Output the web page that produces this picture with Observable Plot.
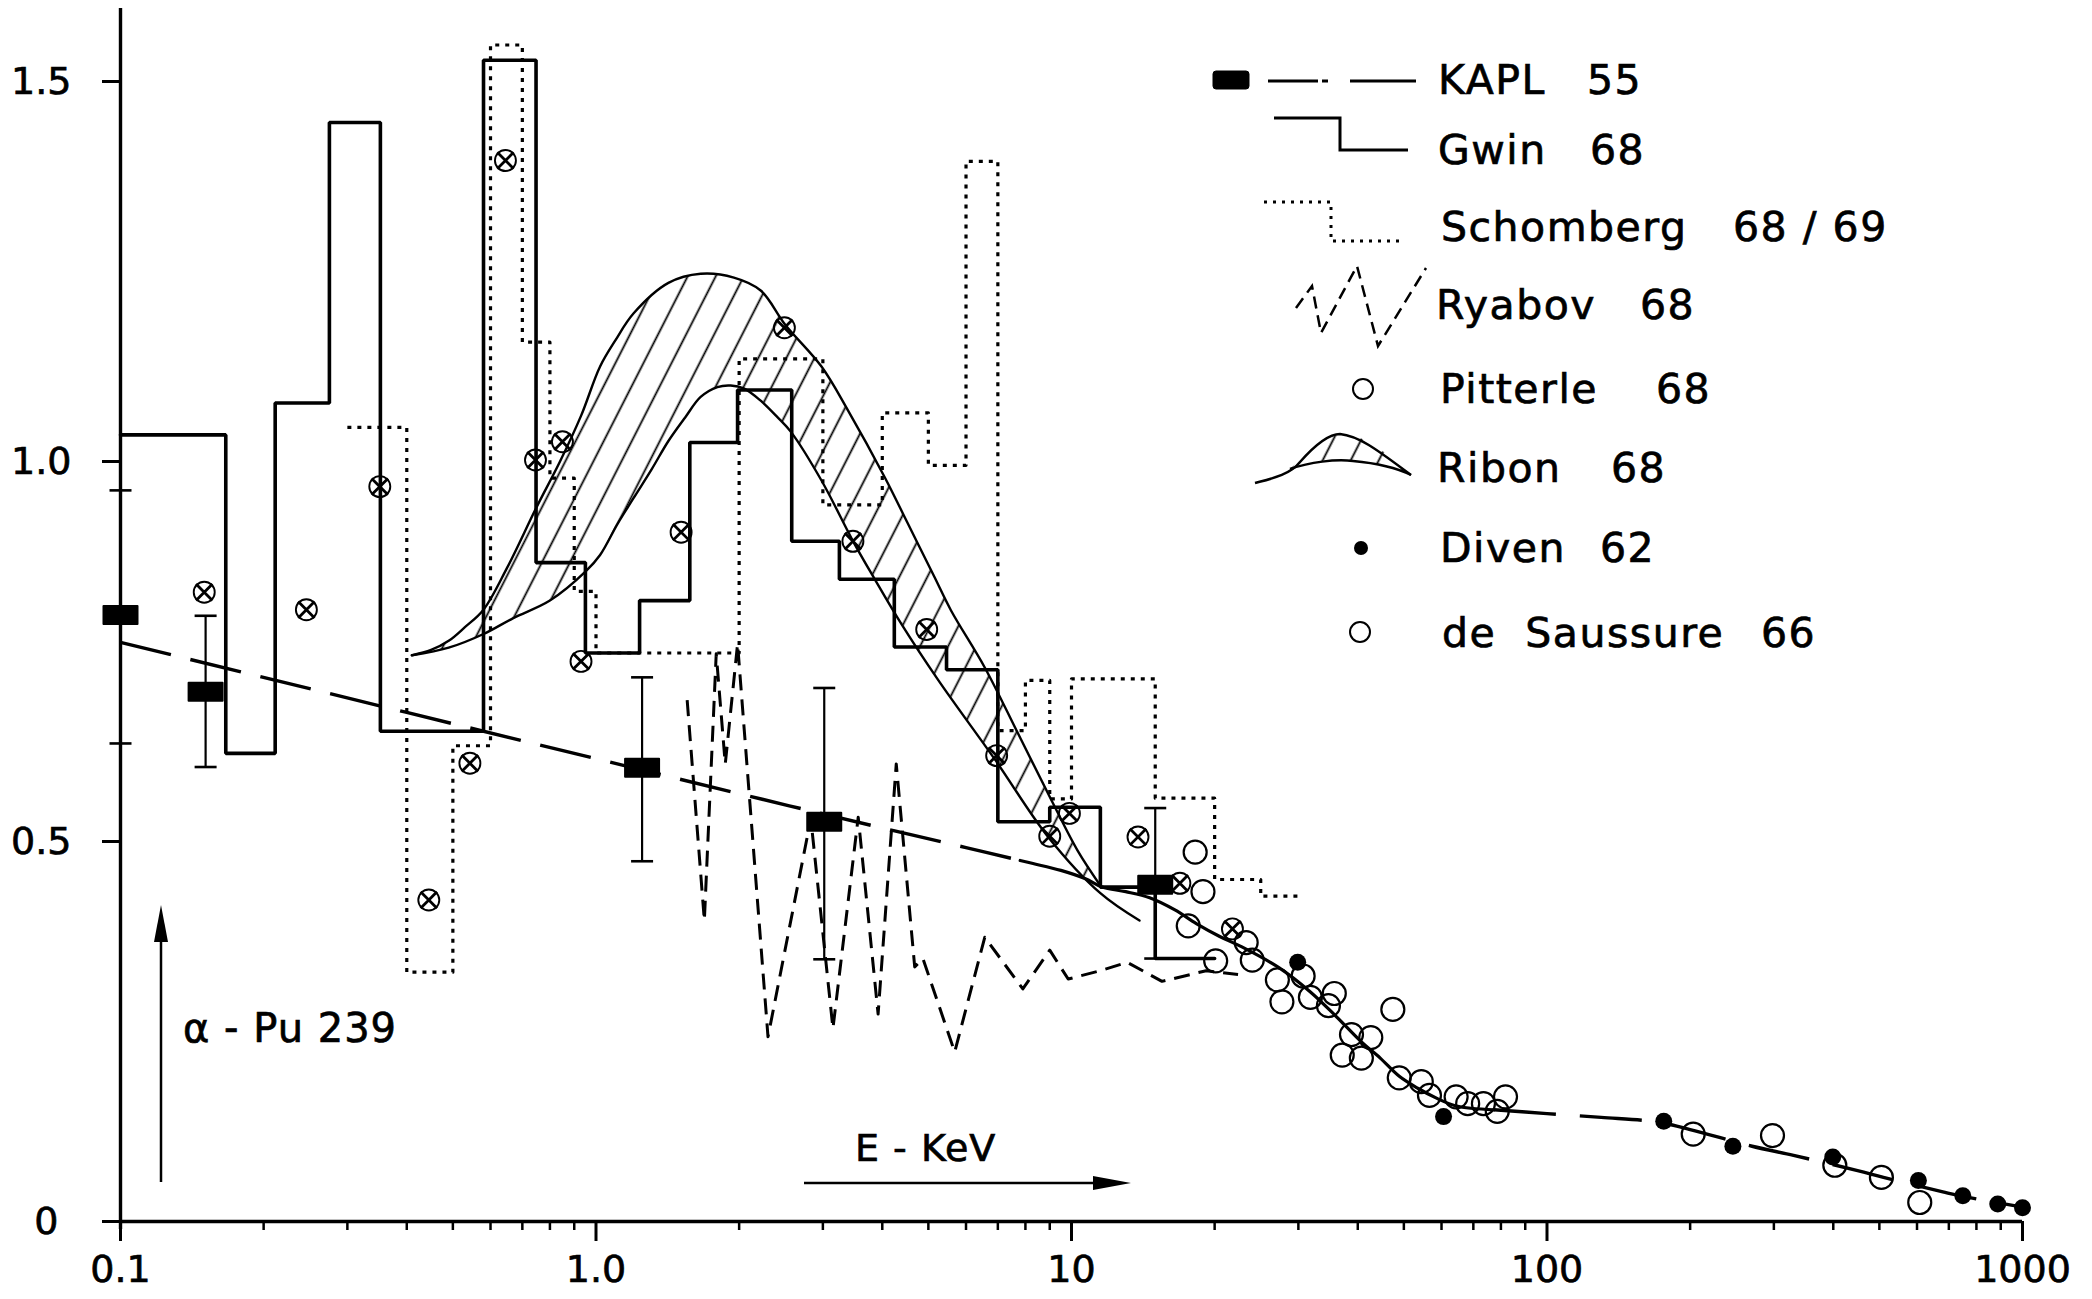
<!DOCTYPE html>
<html><head><meta charset="utf-8">
<script src="https://cdn.jsdelivr.net/npm/d3@7"></script>
<script src="https://cdn.jsdelivr.net/npm/@observablehq/plot@0.6"></script>
<style>
html,body{margin:0;padding:0;background:#fff;}
#chart svg{display:block;}
#chart svg text{stroke:black;stroke-width:0.7px;}
</style>
</head><body><div id="chart"></div>
<script>
// ---------- data (E in keV, alpha) ----------
const gwinEdges = [0.1, 0.1665, 0.2115, 0.275, 0.352, 0.58, 0.748, 0.95, 1.235, 1.575, 1.985, 2.58, 3.25, 4.24, 5.46, 7.0, 9.0, 11.5, 15.0, 20.0];
const gwinAlpha = [1.035, 0.616, 1.077, 1.446, 0.645, 1.528, 0.867, 0.748, 0.817, 1.025, 1.094, 0.895, 0.845, 0.756, 0.726, 0.526, 0.545, 0.44, 0.346];

const schombergEdges = [0.30, 0.40, 0.50, 0.60, 0.70, 0.80, 0.90, 1.0, 2.0, 3.0, 4.0, 5.0, 6.0, 7.0, 8.0, 9.0, 10, 15, 20, 25, 30];
const schombergAlpha = [1.045, 0.328, 0.626, 1.548, 1.157, 0.978, 0.829, 0.748, 1.135, 0.943, 1.064, 0.995, 1.395, 0.646, 0.712, 0.556, 0.714, 0.557, 0.45, 0.428];

const ryabovE = [1.555, 1.69, 1.79, 1.87, 1.985, 2.30, 2.83, 3.15, 3.56, 3.92, 4.28, 4.68, 4.87, 5.68, 6.57, 7.9, 9.0, 9.84, 11.5, 13.1, 15.5, 19.2, 22.4];
const ryabovA = [0.686, 0.396, 0.747, 0.602, 0.76, 0.243, 0.53, 0.254, 0.532, 0.273, 0.602, 0.335, 0.346, 0.223, 0.374, 0.306, 0.357, 0.319, 0.33, 0.341, 0.316, 0.33, 0.325];

const ribonUpperE = [0.41, 0.45, 0.49, 0.53, 0.58, 0.65, 0.75, 0.84, 0.93, 1.02, 1.1, 1.2, 1.42, 1.66, 1.95, 2.22, 2.5, 2.98, 3.39, 4.05, 4.53, 5.15, 5.58, 6.57, 7.72, 9.08, 10.3, 11.5];
const ribonUpperA = [0.745, 0.752, 0.764, 0.782, 0.805, 0.86, 0.94, 1.0, 1.06, 1.125, 1.16, 1.195, 1.235, 1.247, 1.242, 1.225, 1.18, 1.125, 1.067, 0.979, 0.918, 0.848, 0.804, 0.729, 0.642, 0.554, 0.488, 0.442];
const ribonLowerE = [0.41, 0.49, 0.58, 0.67, 0.80, 0.95, 1.02, 1.11, 1.2, 1.31, 1.42, 1.54, 1.66, 1.8, 1.92, 2.05, 2.22, 2.41, 2.57, 2.98, 3.48, 3.85, 4.39, 5.25, 6.9, 8.93, 11.5, 13.9];
const ribonLowerA = [0.745, 0.755, 0.773, 0.794, 0.817, 0.855, 0.877, 0.918, 0.952, 0.99, 1.027, 1.058, 1.085, 1.098, 1.10, 1.096, 1.08, 1.058, 1.039, 0.975, 0.894, 0.846, 0.786, 0.712, 0.608, 0.506, 0.432, 0.396];

const kaplE  = [0.1, 0.151, 1.25, 3.02, 15.0];
const kaplA  = [0.798, 0.697, 0.597, 0.526, 0.443];
const kaplLo = [0.629, 0.598, 0.474, 0.345, 0.346];
const kaplHi = [0.962, 0.797, 0.716, 0.702, 0.544];

const kaplLineE = [0.1, 1.35, 2.55, 4.05, 6.0, 7.8];
const kaplLineA = [0.762, 0.589, 0.547, 0.517, 0.492, 0.475];
const smoothE = [7.8, 8.3, 9.5, 10.7, 11.6, 13.0, 14.6, 16.5, 18.3, 20.5, 22.7, 27.3, 31.8, 36.0, 40.6, 44.6, 48.9, 53.6, 58.7, 64.4, 77.4];
const smoothA = [0.475, 0.471, 0.462, 0.451, 0.440, 0.434, 0.426, 0.41, 0.392, 0.375, 0.362, 0.334, 0.302, 0.27, 0.237, 0.215, 0.191, 0.175, 0.162, 0.152, 0.147];
const highE = [77.4, 100, 130, 170, 200, 270, 330, 450, 510, 680, 750, 1000];
const highA = [0.147, 0.142, 0.137, 0.131, 0.121, 0.099, 0.087, 0.067, 0.058, 0.039, 0.033, 0.019];

const crossE = [0.150, 0.246, 0.351, 0.445, 0.543, 0.645, 0.746, 0.85, 0.93, 1.51, 2.49, 3.47, 4.96, 6.96, 9.0, 9.9, 13.8, 16.9, 21.8];
const crossA = [0.828, 0.805, 0.967, 0.423, 0.603, 1.396, 1.002, 1.026, 0.737, 0.907, 1.176, 0.895, 0.779, 0.613, 0.507, 0.537, 0.506, 0.445, 0.385];

const pitterleE = [18.2, 18.9, 17.6, 20.1, 23.3, 24.0, 27.1, 27.7, 30.7, 31.8, 34.7, 35.7, 47.4, 38.8, 42.6, 37.1, 40.7, 48.9, 54.4, 56.6, 64.4, 68.1, 73.5, 81.8, 78.6];
const pitterleA = [0.486, 0.434, 0.389, 0.343, 0.367, 0.344, 0.318, 0.289, 0.323, 0.295, 0.284, 0.30, 0.279, 0.246, 0.242, 0.219, 0.215, 0.189, 0.184, 0.166, 0.164, 0.155, 0.155, 0.164, 0.145];
const deSaussureE = [203, 298, 403, 505, 608];
const deSaussureA = [0.115, 0.113, 0.074, 0.058, 0.025];

const divenE = [29.9, 60.6, 176, 246, 399, 604, 749, 887, 1000];
const divenA = [0.341, 0.138, 0.132, 0.099, 0.085, 0.054, 0.034, 0.023, 0.018];

const yTicks = [0.5, 1.0, 1.5];
const xMajorTicks = [0.1, 1, 10, 100, 1000];
const xMajorLabels = ["0.1", "1.0", "10", "100", "1000"];
const xMinorTicks = [0.2,0.3,0.4,0.5,0.6,0.7,0.8,0.9, 2,3,4,5,6,7,8,9, 20,30,40,50,60,70,80,90, 200,300,400,500,600,700,800,900];

const legendNames = ["KAPL", "Gwin", "Schomberg", "Ryabov", "Pitterle", "Ribon", "Diven", "de  Saussure"];
const legendYears = ["55", "68", "68 / 69", "68", "68", "68", "62", "66"];

// ---------- tables ----------
const pts = (E, A) => E.map((e, i) => ({E: e, a: A[i]}));
const steps = (edges, vals) => edges.map((e, i) => ({E: e, a: vals[Math.min(i, vals.length - 1)]}));
const upper = pts(ribonUpperE, ribonUpperA);
const lower = pts(ribonLowerE, ribonLowerA);
const ribonPoly = upper.concat(lower.filter(d => d.E <= 11.5).reverse());
const kaplRows = kaplE.map((e, i) => ({E: e, a: kaplA[i], lo: kaplLo[i], hi: kaplHi[i]}));

const boxSym = {draw(c) { const w = 17, h = 9; c.moveTo(-w, -h); c.lineTo(w, -h); c.lineTo(w, h); c.lineTo(-w, h); c.closePath(); }};
const capSym = {draw(c) { c.moveTo(-11, 0); c.lineTo(11, 0); }};

const plot = Plot.plot({
  width: 2092, height: 1299,
  marginLeft: 120, marginRight: 70, marginTop: 5, marginBottom: 78,
  x: {type: "log", domain: [0.1, 1000], label: null},
  y: {domain: [0, 1.6], label: null},
  style: {fontFamily: "DejaVu Sans, sans-serif", color: "black", background: "white"},
  marks: [
    Plot.line(ribonPoly, {x: "E", y: "a", fill: "url(#ribonHatch)", stroke: "none", curve: "catmull-rom"}),
    Plot.line(upper, {x: "E", y: "a", stroke: "black", strokeWidth: 2.4, curve: "catmull-rom"}),
    Plot.line(lower, {x: "E", y: "a", stroke: "black", strokeWidth: 2.4, curve: "catmull-rom"}),
    Plot.line(steps(schombergEdges, schombergAlpha), {x: "E", y: "a", curve: "step-after", stroke: "black", strokeWidth: 3.2, strokeDasharray: "4,6", strokeLinecap: "butt"}),
    Plot.line(steps(gwinEdges, gwinAlpha), {x: "E", y: "a", curve: "step-after", stroke: "black", strokeWidth: 3.6, strokeLinejoin: "miter"}),
    Plot.line(pts(kaplLineE, kaplLineA), {x: "E", y: "a", stroke: "black", strokeWidth: 3.4, strokeDasharray: "52,20", strokeLinecap: "butt", curve: "catmull-rom"}),
    Plot.line(pts(smoothE, smoothA), {x: "E", y: "a", stroke: "black", strokeWidth: 3.2, curve: "catmull-rom"}),
    Plot.line(pts(highE, highA), {x: "E", y: "a", stroke: "black", strokeWidth: 3.4, strokeDasharray: "62,24", strokeLinecap: "butt", curve: "catmull-rom"}),
    Plot.line(pts(ryabovE, ryabovA), {x: "E", y: "a", stroke: "black", strokeWidth: 3, strokeDasharray: "16,9", strokeLinecap: "butt"}),
    Plot.ruleX(kaplRows, {x: "E", y1: "lo", y2: "hi", stroke: "black", strokeWidth: 2.2}),
    Plot.dot(kaplRows, {x: "E", y: "lo", symbol: capSym, stroke: "black", fill: "none", strokeWidth: 2.6}),
    Plot.dot(kaplRows, {x: "E", y: "hi", symbol: capSym, stroke: "black", fill: "none", strokeWidth: 2.6}),
    Plot.dot(kaplRows, {x: "E", y: "a", symbol: boxSym, fill: "black", stroke: "black", strokeWidth: 2, strokeLinejoin: "round"}),
    Plot.dot(pts(crossE, crossA), {x: "E", y: "a", r: 10.5, stroke: "black", fill: "none", strokeWidth: 1.9}),
    Plot.dot(pts(crossE, crossA), {x: "E", y: "a", symbol: "times", r: 7.5, stroke: "black", strokeWidth: 2.8}),
    Plot.dot(pts(pitterleE, pitterleA), {x: "E", y: "a", r: 11.5, stroke: "black", fill: "none", strokeWidth: 2.2}),
    Plot.dot(pts(deSaussureE, deSaussureA), {x: "E", y: "a", r: 11.5, stroke: "black", fill: "none", strokeWidth: 2.2}),
    Plot.dot(pts(divenE, divenA), {x: "E", y: "a", r: 8.5, fill: "black", stroke: "none"}),
    Plot.ruleY([0], {stroke: "black", strokeWidth: 3.4}),
    Plot.ruleX([0.1], {stroke: "black", strokeWidth: 3.4, insetBottom: -8, insetTop: 3}),
    Plot.axisY(yTicks, {tickSize: 18, tickPadding: 31, fontSize: 38, strokeWidth: 3, tickFormat: d => d.toFixed(1), label: null}),
    Plot.axisY([0], {tickSize: 18, tickPadding: 44, fontSize: 38, strokeWidth: 3, tickFormat: () => "0", label: null}),
    Plot.axisX(xMajorTicks, {tickSize: 20, tickPadding: 14, fontSize: 38, strokeWidth: 3, tickFormat: d => xMajorLabels[xMajorTicks.indexOf(d)], label: null}),
    Plot.axisX(xMinorTicks, {tickSize: 9, strokeWidth: 2.5, tickFormat: () => "", label: null})
  ]
});

document.getElementById("chart").appendChild(plot);

// ---------- pattern, legend, annotations ----------
const svg = d3.select(plot);
const defs = svg.insert("defs", ":first-child");
const pat = defs.append("pattern").attr("id", "ribonHatch").attr("patternUnits", "userSpaceOnUse")
  .attr("width", 25).attr("height", 25).attr("patternTransform", "rotate(27)");
pat.append("line").attr("x1", 12.5).attr("y1", 0).attr("x2", 12.5).attr("y2", 25).attr("stroke", "black").attr("stroke-width", 1.8);

const G = svg.append("g").attr("fill", "black").attr("stroke", "none").attr("text-anchor", "start");
const legendTextX = [1438, 1438, 1441, 1436, 1440, 1437, 1440, 1442];
const legendYearX = [1587, 1590, 1733, 1640, 1656, 1611, 1600, 1761];
const legendBase  = [94, 164, 241, 319, 403, 482, 562, 647];
legendNames.forEach((n, i) => {
  G.append("text").attr("x", legendTextX[i]).attr("y", legendBase[i]).attr("font-size", 41)
    .attr("text-anchor", "start").attr("letter-spacing", 1.5).style("white-space", "pre").text(n);
  G.append("text").attr("x", legendYearX[i]).attr("y", legendBase[i]).attr("font-size", 41)
    .attr("text-anchor", "start").attr("letter-spacing", 1.5).style("white-space", "pre").text(legendYears[i]);
});
const S = svg.append("g").attr("fill", "none").attr("stroke", "black");
// KAPL
S.append("rect").attr("x", 1213).attr("y", 71).attr("width", 36).attr("height", 18).attr("rx", 3).attr("fill", "black");
S.append("path").attr("d", "M1268,81H1318M1322,81H1328M1350,81H1416").attr("stroke-width", 3);
// Gwin
S.append("path").attr("d", "M1274,118H1340V150H1408").attr("stroke-width", 3);
// Schomberg
S.append("path").attr("d", "M1264,202H1331V241H1404").attr("stroke-width", 3).attr("stroke-dasharray", "3,6");
// Ryabov
S.append("path").attr("d", "M1296,308L1312,286L1321,333L1357,266L1378,346L1426,268").attr("stroke-width", 2.5).attr("stroke-dasharray", "12,7");
// Pitterle
S.append("circle").attr("cx", 1363).attr("cy", 389).attr("r", 10).attr("stroke-width", 2);
// Ribon
S.append("path").attr("d", "M1290,469C1305,462 1330,458 1353,461C1375,463 1395,467 1411,475C1398,465 1380,445 1360,438C1345,432 1330,434 1312,447C1302,455 1296,463 1290,469Z")
  .attr("fill", "url(#ribonHatch)").attr("stroke", "none");
S.append("path").attr("d", "M1255,483C1270,479 1290,475 1300,462C1315,445 1328,434 1340,434C1360,436 1380,452 1411,475").attr("stroke-width", 2.5);
S.append("path").attr("d", "M1290,469C1310,462 1335,459 1353,461C1375,463 1395,467 1411,475").attr("stroke-width", 2.5);
// Diven
S.append("circle").attr("cx", 1361).attr("cy", 548).attr("r", 7).attr("fill", "black").attr("stroke", "none");
// de Saussure
S.append("circle").attr("cx", 1360).attr("cy", 632).attr("r", 10).attr("stroke-width", 2);

// alpha - Pu 239 with vertical arrow
G.append("text").attr("x", 183).attr("y", 1042).attr("font-size", 40).attr("text-anchor", "start").attr("letter-spacing", 1).style("white-space", "pre").text("α - Pu 239");
S.append("path").attr("d", "M161,1182V935").attr("stroke-width", 2.5);
G.append("path").attr("d", "M161,905L154,942L168,942Z");
// E - KeV with horizontal arrow
G.append("text").attr("x", 855).attr("y", 1161).attr("font-size", 38).attr("text-anchor", "start").attr("letter-spacing", 1).style("white-space", "pre").text("E - KeV");
S.append("path").attr("d", "M804,1183H1100").attr("stroke-width", 2.5);
G.append("path").attr("d", "M1131,1183L1093,1176L1093,1190Z");
</script>
</body></html>
